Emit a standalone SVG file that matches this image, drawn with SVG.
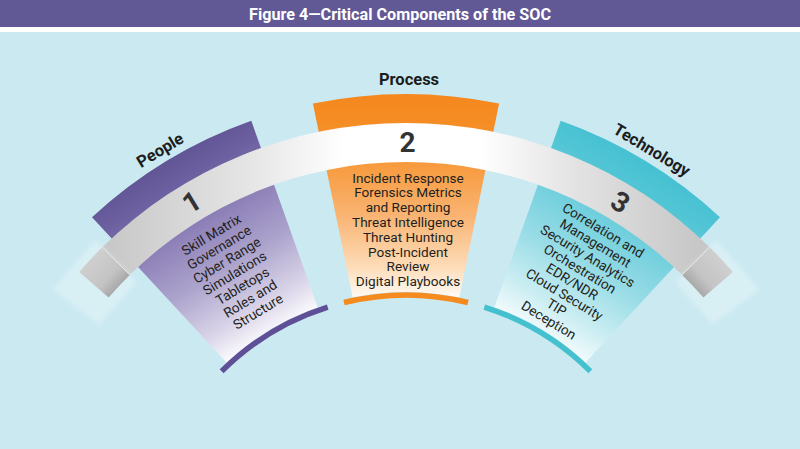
<svg xmlns="http://www.w3.org/2000/svg" xmlns:xlink="http://www.w3.org/1999/xlink" width="800" height="449" viewBox="0 0 800 449">
  <style>
    .title { font-family: Roboto, "Liberation Sans", sans-serif; font-weight: 700; font-size: 17px; fill: #ffffff; }
    .label { font-family: Roboto, "Liberation Sans", sans-serif; font-weight: 700; font-size: 16.5px; fill: #1c1c1c; text-anchor: middle; }
    .num { font-family: Roboto, "Liberation Sans", sans-serif; font-weight: 700; font-size: 28px; fill: #333333; text-anchor: middle; }
    .item { font-family: Roboto, "Liberation Sans", sans-serif; font-size: 13.6px; fill: #231f20; text-anchor: middle; }
    .base { fill: none; stroke-width: 5.5; }
  </style>
  <defs>
    <linearGradient id="gPurple" x1="0" y1="0" x2="0" y2="1">
      <stop offset="0" stop-color="#625596"/>
      <stop offset="0.14" stop-color="#6e61a1"/>
      <stop offset="0.33" stop-color="#8a7db6"/>
      <stop offset="0.6" stop-color="#aca3cc"/>
      <stop offset="0.85" stop-color="#d9d4e8"/>
      <stop offset="1" stop-color="#fbfafd"/>
    </linearGradient>
    <linearGradient id="gOrange" x1="0" y1="0" x2="0" y2="1">
      <stop offset="0" stop-color="#f5881e"/>
      <stop offset="0.14" stop-color="#f58d24"/>
      <stop offset="0.33" stop-color="#f7993a"/>
      <stop offset="0.6" stop-color="#f9b473"/>
      <stop offset="0.85" stop-color="#fddcb8"/>
      <stop offset="1" stop-color="#fffaf4"/>
    </linearGradient>
    <linearGradient id="gCyan" x1="0" y1="0" x2="0" y2="1">
      <stop offset="0" stop-color="#45c1d2"/>
      <stop offset="0.14" stop-color="#52c5d5"/>
      <stop offset="0.33" stop-color="#6dcedc"/>
      <stop offset="0.6" stop-color="#98dce6"/>
      <stop offset="0.85" stop-color="#cdeef3"/>
      <stop offset="1" stop-color="#f2fbfc"/>
    </linearGradient>
    <linearGradient id="gBand" gradientUnits="userSpaceOnUse" x1="100" y1="0" x2="712" y2="0">
      <stop offset="0" stop-color="#c6c6c6"/>
      <stop offset="0.25" stop-color="#e6e6e6"/>
      <stop offset="0.4" stop-color="#ffffff"/>
      <stop offset="0.62" stop-color="#ffffff"/>
      <stop offset="0.78" stop-color="#e2e2e2"/>
      <stop offset="1" stop-color="#c4c4c4"/>
    </linearGradient>
    <linearGradient id="gEnd" gradientUnits="userSpaceOnUse" x1="90.8" y1="259.5" x2="119.2" y2="286.2">
      <stop offset="0" stop-color="#d0cfcf"/>
      <stop offset="0.65" stop-color="#c5c4c4"/>
      <stop offset="1" stop-color="#a9a8a8"/>
    </linearGradient>
    <filter id="soft" x="-30%" y="-30%" width="160%" height="160%">
      <feGaussianBlur stdDeviation="2.5"/>
    </filter>
    <path id="wedge" d="M 312.9 103.6 A 462 462 0 0 1 499.1 103.6 L 459.3 297.4 A 264 264 0 0 0 352.7 297.4 Z"/>
    <path id="baseArc" d="M 344 302.5 A 261 261 0 0 1 468 302.5"/>
    <g id="bandEnd">
      <polygon points="95.5,240 136.9,282.1 99.3,324.9 52.2,289.4" fill="#ffffff" opacity="0.28" filter="url(#soft)"/>
      <path d="M 102.5 247.1 A 433 433 0 0 0 79.2 271.9 L 108.6 297.5 A 394 394 0 0 1 129.8 275 Z" fill="url(#gEnd)"/>
      <line x1="102.5" y1="247.1" x2="129.8" y2="275" stroke="#e4f3f5" stroke-width="0.8"/>
    </g>
  </defs>

  <!-- background and title -->
  <rect x="0" y="0" width="800" height="449" fill="#cae9f1"/>
  <rect x="0" y="27" width="800" height="5" fill="#ffffff"/>
  <rect x="0" y="0" width="800" height="27" fill="#615896"/>
  <text class="title" x="400" y="19.5" text-anchor="middle" textLength="302" lengthAdjust="spacingAndGlyphs">Figure 4—Critical Components of the SOC</text>

  <!-- People -->
  <g id="people" transform="rotate(-31.2 406 556)">
    <use xlink:href="#wedge" fill="url(#gPurple)"/>
    <use xlink:href="#baseArc" class="base" stroke="#5f4f96"/>
    <text class="label" x="406" y="87">People</text>
    <text class="item" x="406" y="185">Skill Matrix</text>
    <text class="item" x="406" y="200">Governance</text>
    <text class="item" x="406" y="215">Cyber Range</text>
    <text class="item" x="406" y="230">Simulations</text>
    <text class="item" x="406" y="245">Tabletops</text>
    <text class="item" x="406" y="260">Roles and</text>
    <text class="item" x="406" y="275">Structure</text>
  </g>

  <!-- Process -->
  <g id="process">
    <use xlink:href="#wedge" fill="url(#gOrange)"/>
    <use xlink:href="#baseArc" class="base" stroke="#f58a1f"/>
    <text class="label" x="409" y="85">Process</text>
    <text class="item" x="408" y="182.5">Incident Response</text>
    <text class="item" x="408" y="197.3">Forensics Metrics</text>
    <text class="item" x="408" y="212.1">and Reporting</text>
    <text class="item" x="408" y="226.9">Threat Intelligence</text>
    <text class="item" x="408" y="241.7">Threat Hunting</text>
    <text class="item" x="408" y="256.5">Post-Incident</text>
    <text class="item" x="408" y="271.3">Review</text>
    <text class="item" x="408" y="286.1">Digital Playbooks</text>
  </g>

  <!-- Technology -->
  <g id="technology" transform="rotate(31.2 406 556)">
    <use xlink:href="#wedge" fill="url(#gCyan)"/>
    <use xlink:href="#baseArc" class="base" stroke="#44c0cf"/>
    <text class="label" x="406" y="87">Technology</text>
    <text class="item" x="406" y="180">Correlation and</text>
    <text class="item" x="406" y="195">Management</text>
    <text class="item" x="406" y="210">Security Analytics</text>
    <text class="item" x="406" y="225">Orchestration</text>
    <text class="item" x="406" y="240">EDR/NDR</text>
    <text class="item" x="406" y="255">Cloud Security</text>
    <text class="item" x="406" y="270">TIP</text>
    <text class="item" x="406" y="285">Deception</text>
  </g>

  <!-- connecting band -->
  <g id="connectors">
    <path d="M 102.5 247.1 A 433 433 0 0 1 709.5 247.1 L 682.2 275 A 394 394 0 0 0 129.8 275 Z" fill="url(#gBand)"/>
    <use xlink:href="#bandEnd"/>
    <use xlink:href="#bandEnd" transform="translate(812 0) scale(-1 1)"/>
    <text class="num" x="406" y="152" transform="rotate(-31.2 406 556)">1</text>
    <text class="num" x="407.5" y="152">2</text>
    <text class="num" x="406" y="152" transform="rotate(31.2 406 556)">3</text>
  </g>
</svg>
